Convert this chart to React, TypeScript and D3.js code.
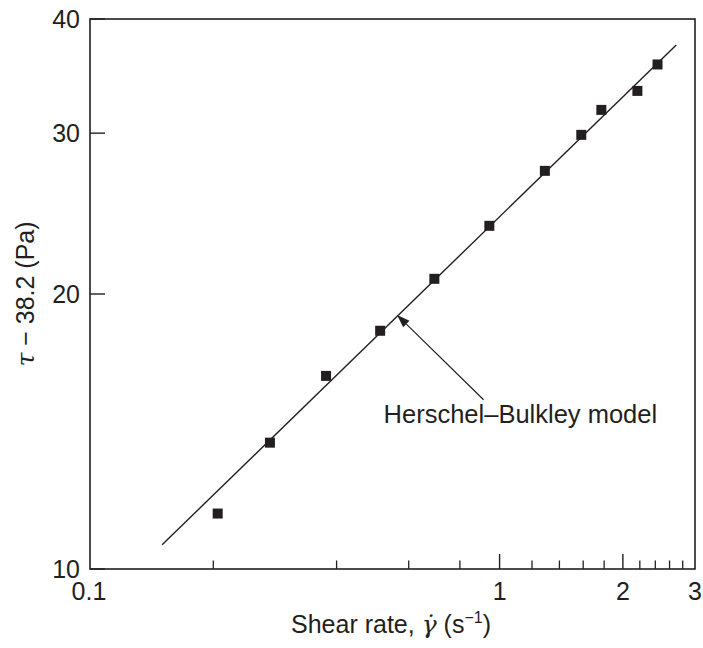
import React from "react";
import * as d3 from "d3";

// Data
const shearRate = [0.205, 0.275, 0.377, 0.511, 0.693, 0.944, 1.29, 1.583, 1.772, 2.17, 2.43];
const stress = [11.5, 13.75, 16.27, 18.23, 20.78, 23.75, 27.28, 29.87, 31.81, 33.37, 35.67];
const fitX = [0.15, 2.7];
const fitY = [10.63, 37.46];
const xMajorTicks = [1, 2];
const xMinorTicks = [0.2, 0.4, 0.6, 0.8, 1.2, 1.4, 1.6, 1.8, 2.2, 2.4, 2.6, 2.8];
const xTickLabels = [0.1, 1, 2, 3];
const yTicks = [10, 20, 30, 40];
const annotation = { label: "Herschel–Bulkley model", tip: [0.562, 18.97], tail: [0.914, 15.32], text: [0.521, 14.45] };

const W = 703;
const H = 648;
const margin = { left: 90, right: 8, top: 19, bottom: 79 };
const ink = "#231f20";
const font = "'Liberation Sans', Arial, Helvetica, sans-serif";

export default function App() {
  const x = d3.scaleLog().domain([0.1, 3]).range([margin.left, W - margin.right]);
  const y = d3.scaleLog().domain([10, 40]).range([H - margin.bottom, margin.top]);
  const x0 = x.range()[0], x1 = x.range()[1];
  const y0 = y.range()[0], y1 = y.range()[1];
  const line = d3.line<number>().x((d, i) => x(fitX[i])).y((d, i) => y(fitY[i]));

  const tx = x(annotation.tip[0]), ty = y(annotation.tip[1]);
  const sx = x(annotation.tail[0]), sy = y(annotation.tail[1]);
  const ang = Math.atan2(ty - sy, tx - sx);
  const hl = 13, hw = 4.5;
  const bx = tx - hl * Math.cos(ang), by = ty - hl * Math.sin(ang);
  const px = -Math.sin(ang) * hw, py = Math.cos(ang) * hw;
  const head = `M${tx},${ty}L${bx + px},${by + py}L${bx - px},${by - py}Z`;

  return (
    <svg width={W} height={H} style={{ position: "absolute", left: 0, top: 0, background: "#fff" }} fontFamily={font}>
      <rect x={0} y={0} width={W} height={H} fill="#fff" />
      {/* frame */}
      <rect x={x0} y={y1} width={x1 - x0} height={y0 - y1} fill="none" stroke={ink} strokeWidth={1.6} />
      {/* x ticks */}
      {xMinorTicks.map((t) => (
        <line key={"mi" + t} x1={x(t)} x2={x(t)} y1={y0} y2={y0 - 8.5} stroke={ink} strokeWidth={1.3} />
      ))}
      {xMajorTicks.map((t) => (
        <line key={"ma" + t} x1={x(t)} x2={x(t)} y1={y0} y2={y0 - 15} stroke={ink} strokeWidth={1.4} />
      ))}
      {xTickLabels.map((t) => (
        <text key={"xl" + t} x={x(t) - (t === 0.1 ? 1 : 0)} y={600} textAnchor="middle" fontSize={25} fill={ink}>
          {String(t)}
        </text>
      ))}
      {/* y ticks */}
      {yTicks.map((t) => (
        <line key={"yt" + t} x1={x0} x2={x0 + 15} y1={y(t)} y2={y(t)} stroke={ink} strokeWidth={1.4} />
      ))}
      {yTicks.map((t) => (
        <text key={"yl" + t} x={80} y={y(t)} dy="0.35em" textAnchor="end" fontSize={25} fill={ink}>
          {String(t)}
        </text>
      ))}
      {/* fit line */}
      <path d={line(fitX) || ""} fill="none" stroke={ink} strokeWidth={1.4} />
      {/* data */}
      {shearRate.map((v, i) => (
        <rect key={"p" + i} x={x(v) - 5} y={y(stress[i]) - 5} width={10} height={10} fill={ink} />
      ))}
      {/* annotation */}
      <line x1={sx} y1={sy} x2={bx} y2={by} stroke={ink} strokeWidth={1.2} />
      <path d={head} fill={ink} />
      <text x={x(annotation.text[0])} y={y(annotation.text[1])} fontSize={25.5} fill={ink}>
        {annotation.label}
      </text>
      {/* axis titles */}
      <text x={391} y={633} textAnchor="middle" fontSize={25} fill={ink}>
        Shear rate,{" "}
        <tspan fontStyle="italic" fontFamily="'DejaVu Serif', serif">γ̇</tspan> (s
        <tspan fontSize={16} dy={-10}>−1</tspan>
        <tspan dy={10}>)</tspan>
      </text>
      <text transform={`translate(34,${(y0 + y1) / 2}) rotate(-90)`} textAnchor="middle" fontSize={25} fill={ink}>
        <tspan fontStyle="italic" fontFamily="'DejaVu Serif', serif">τ</tspan> − 38.2 (Pa)
      </text>
    </svg>
  );
}
